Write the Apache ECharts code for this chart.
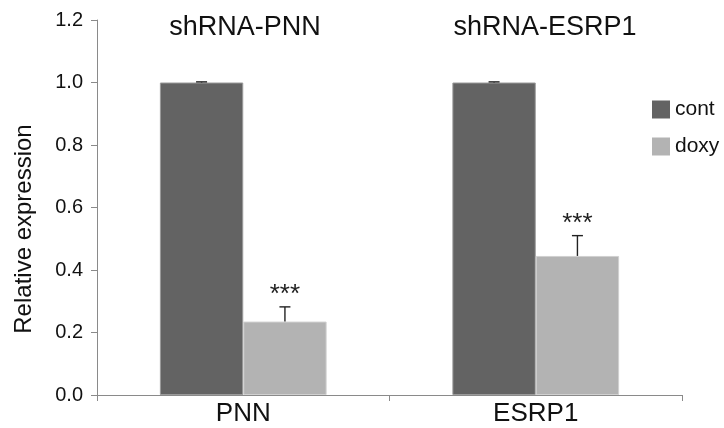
<!DOCTYPE html>
<html><head><meta charset="utf-8">
<script src="https://cdn.jsdelivr.net/npm/echarts@6/dist/echarts.min.js"></script>
<style>html,body{margin:0;padding:0;background:#fff}#c{width:724px;height:428px}</style>
</head><body><div id="c"></div>
<script>
var categories = ['PNN', 'ESRP1'];
var titles = ['shRNA-PNN', 'shRNA-ESRP1'];
var contValues = [1.0, 1.0];
var contErr = [0.002, 0.002];
var doxyValues = [0.235, 0.445];
var doxyErr = [0.047, 0.065];
var doxyStars = ['***', '***'];
var yTicks = [0, 0.2, 0.4, 0.6, 0.8, 1.0, 1.2];
var yName = 'Relative expression';

var GAP = 0.43;
var FONT = 'Liberation Sans, Arial, sans-serif';

function errRender(values, errs, side, stars) {
  return function (params, api) {
    var i = api.value(0);
    var top = api.coord([i, values[i] + errs[i]]);
    var base = api.coord([i, values[i]]);
    var band = api.size([1, 0])[0];
    var bw = band * (1 - GAP) / 2;
    var x = base[0] + side * bw / 2;
    var cap = 5.5;
    var children = [
      { type: 'line', shape: { x1: x, y1: base[1], x2: x, y2: top[1] }, style: { stroke: '#222', lineWidth: 1.4 } },
      { type: 'line', shape: { x1: x - cap, y1: top[1], x2: x + cap, y2: top[1] }, style: { stroke: '#222', lineWidth: 1.4 } }
    ];
    if (stars && stars[i]) {
      children.push({ type: 'text', style: { text: stars[i], x: x, y: top[1] - 12, textAlign: 'center', textVerticalAlign: 'middle', fontSize: 26, fontFamily: FONT, fill: '#222' } });
    }
    return { type: 'group', children: children };
  };
}

var chart = echarts.init(document.getElementById('c'));
chart.setOption({
  animation: false,
  backgroundColor: '#fff',
  textStyle: { fontFamily: FONT },
  title: [
    { text: titles[0], left: 240, top: 9, textAlign: 'center', textStyle: { fontSize: 27, fontWeight: 'normal', color: '#111', fontFamily: FONT } },
    { text: titles[1], left: 540, top: 9, textAlign: 'center', textStyle: { fontSize: 27, fontWeight: 'normal', color: '#111', fontFamily: FONT } }
  ],
  legend: {
    data: ['cont', 'doxy'], orient: 'vertical', left: 647, top: 94,
    icon: 'rect', itemWidth: 18, itemHeight: 18, itemGap: 16,
    itemStyle: { borderWidth: 0 },
    textStyle: { fontSize: 21, lineHeight: 18, color: '#111', fontFamily: FONT }
  },
  graphic: [
    { type: 'text', x: 24, y: 229, rotation: Math.PI / 2,
      style: { text: yName, fontSize: 24, fontFamily: FONT, fill: '#111', textAlign: 'center', textVerticalAlign: 'middle' } }
  ],
  grid: { left: 97, right: 42, top: 20, bottom: 33 },
  xAxis: {
    type: 'category', data: categories,
    axisLine: { lineStyle: { color: '#8a8a8a', width: 1 } },
    axisTick: { show: true, length: 6, lineStyle: { color: '#8a8a8a' } },
    axisLabel: { fontSize: 26, color: '#111', margin: 6, fontFamily: FONT }
  },
  yAxis: {
    type: 'value', min: 0, max: 1.2, interval: 0.2,
    axisLine: { show: true, lineStyle: { color: '#8a8a8a', width: 1 } },
    axisTick: { show: true, length: 6, lineStyle: { color: '#8a8a8a' } },
    splitLine: { show: false },
    axisLabel: { fontSize: 20, color: '#111', margin: 14, fontFamily: FONT, formatter: function (v) { return v.toFixed(1); } }
  },
  series: [
    { name: 'cont', type: 'bar', data: contValues, barGap: 0, barCategoryGap: (GAP * 100) + '%',
      itemStyle: { color: '#636363', borderColor: '#9a9a9a', borderWidth: 1 } },
    { name: 'doxy', type: 'bar', data: doxyValues, barGap: 0, barCategoryGap: (GAP * 100) + '%',
      itemStyle: { color: '#b3b3b3', borderColor: '#d0d0d0', borderWidth: 1 } },
    { type: 'custom', renderItem: errRender(contValues, contErr, -1, null), data: categories.map(function (c, i) { return [i]; }), z: 5, silent: true },
    { type: 'custom', renderItem: errRender(doxyValues, doxyErr, 1, doxyStars), data: categories.map(function (c, i) { return [i]; }), z: 5, silent: true }
  ]
});
</script></body></html>
